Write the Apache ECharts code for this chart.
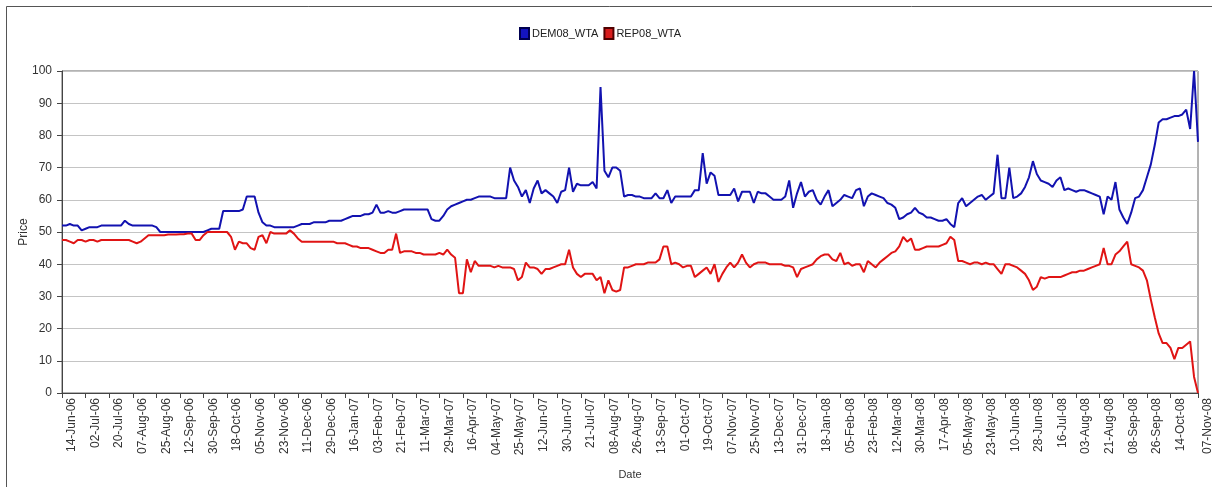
<!DOCTYPE html>
<html>
<head>
<meta charset="utf-8">
<script src="https://cdn.jsdelivr.net/npm/echarts@6/dist/echarts.min.js"></script>
<style>
html,body{margin:0;padding:0;background:#fff;}
#chart{width:1212px;height:487px;}
</style>
</head>
<body>
<div id="chart"></div>
<script>
// Tick labels shown on the date axis (every 6th point, plus the last point)
var tickLabels = ['14-Jun-06','02-Jul-06','20-Jul-06','07-Aug-06','25-Aug-06','12-Sep-06','30-Sep-06','18-Oct-06','05-Nov-06','23-Nov-06','11-Dec-06','29-Dec-06','16-Jan-07','03-Feb-07','21-Feb-07','11-Mar-07','29-Mar-07','16-Apr-07','04-May-07','25-May-07','12-Jun-07','30-Jun-07','21-Jul-07','08-Aug-07','26-Aug-07','13-Sep-07','01-Oct-07','19-Oct-07','07-Nov-07','25-Nov-07','13-Dec-07','31-Dec-07','18-Jan-08','05-Feb-08','23-Feb-08','12-Mar-08','30-Mar-08','17-Apr-08','05-May-08','23-May-08','10-Jun-08','28-Jun-08','16-Jul-08','03-Aug-08','21-Aug-08','08-Sep-08','26-Sep-08','14-Oct-08','07-Nov-08'];
var seriesNames = ['DEM08_WTA','REP08_WTA'];

var dem = [
52,52,52.5,52,52,50.5,
51,51.5,51.5,51.5,52,52,
52,52,52,52,53.5,52.5,
52,52,52,52,52,52,
51.5,50,50,50,50,50,
50,50,50,50,50,50,
50,50.5,51,51,51,56.5,
56.5,56.5,56.5,56.5,57,61,
61,61,56,53,52,52,
51.5,51.5,51.5,51.5,51.5,51.5,
52,52.5,52.5,52.5,53,53,
53,53,53.5,53.5,53.5,53.5,
54,54.5,55,55,55,55.5,
55.5,56,58.5,56,56,56.5,
56,56,56.5,57,57,57,
57,57,57,57,54,53.5,
53.5,55,57,58,58.5,59,
59.5,60,60,60.5,61,61,
61,61,60.5,60.5,60.5,60.5,
70,66,64,61,63,59,
63.5,66,62,63,62,61,
59,62.5,63,70,62.5,65,
64.5,64.5,64.5,65.5,63.5,95,
69,67,70,70,69,61,
61.5,61.5,61,61,60.5,60.5,
60.5,62,60.5,60.5,63,59,
61,61,61,61,61,63,
63,74.5,65,68.5,67.5,61.5,
61.5,61.5,61.5,63.5,59.5,62.5,
62.5,62.5,59,62.5,62,62,
61,60,60,60,61,66,
57.5,62,65.5,61,62.5,63,
60,58.5,61,63,58,59,
60,61.5,61,60.5,63,63.5,
58,61,62,61.5,61,60.5,
59,58.5,57.5,54,54.5,55.5,
56,57.5,56,55.5,54.5,54.5,
54,53.5,53.5,54,52.5,51.5,
59,60.5,58,59,60,61,
61.5,60,61,62,74,60.5,
60.5,70,60.5,61,62,64,
67,72,68,66,65.5,65,
64,66,67,63,63.5,63,
62.5,63,63,62.5,62,61.5,
61,55.5,61,60,65.5,57,
54.5,52.5,56,60.5,61,63,
67,71,77,84,85,85,
85.5,86,86,86.5,88,82,
100,78
];

var rep = [
47.5,47.5,47,46.5,47.5,47.5,
47,47.5,47.5,47,47.5,47.5,
47.5,47.5,47.5,47.5,47.5,47.5,
47,46.5,47,48,49,49,
49,49,49,49.2,49.2,49.2,
49.3,49.3,49.5,49.5,47.5,47.5,
49,50,50,50,50,50,
50,48.5,44.5,47,46.5,46.5,
45,44.5,48.5,49,46.5,50,
49.5,49.5,49.5,49.5,50.5,49.5,
48,47,47,47,47,47,
47,47,47,47,46.5,46.5,
46.5,46,45.5,45.5,45,45,
45,44.5,44,43.5,43.5,44.5,
44.5,49.5,43.5,44,44,44,
43.5,43.5,43,43,43,43,
43.5,43,44.5,43,42,31,
31,41.5,37.5,41,39.5,39.5,
39.5,39.5,39,39.5,39,39,
39,38.5,35,36,40.5,39,
39,38.5,37,38.5,38.5,39,
39.5,40,40,44.5,39,37,
36,37,37,37,35,36,
31,35,32,31.5,32,39,
39,39.5,40,40,40,40.5,
40.5,40.5,41.5,45.5,45.5,40,
40.5,40,39,39.5,39.5,36,
37,38,39,37,40,34.5,
37,39,40.5,39,40.5,43,
40.5,39,40,40.5,40.5,40.5,
40,40,40,40,39.5,39.5,
39,36,38.5,39,39.5,40,
41.5,42.5,43,43,41.5,41,
43.5,40,40.5,39.5,40,40,
37.5,41,40,39,40.5,41.5,
42.5,43.5,44,45.5,48.5,47,
48,44.5,44.5,45,45.5,45.5,
45.5,45.5,46,46.5,48.5,47.5,
41,41,40.5,40,40.5,40.5,
40,40.5,40,40,38.5,37,
40,40,39.5,39,38,37,
35,32,33,36,35.5,36,
36,36,36,36.5,37,37.5,
37.5,38,38,38.5,39,39.5,
40,45,40,40,43,44,
45.5,47,40,39.5,39,38,
35,29,23.5,18.5,15.5,15.5,
14,10.5,14,14,15,16,
5,0
];

// Build category list: labelled points every 6 entries, last label on the final point
var step = 6;
var n = dem.length;
var categories = [];
var labelAt = {};
for (var i = 0; i < n; i++) {
  var name = 'p' + i;
  if (i % step === 0 && i / step < tickLabels.length - 1) { name = tickLabels[i / step]; labelAt[i] = true; }
  if (i === n - 1) { name = tickLabels[tickLabels.length - 1]; labelAt[i] = true; }
  categories.push(name);
}
function showAt(idx) { return !!labelAt[idx]; }

var chart = echarts.init(document.getElementById('chart'), null, {renderer: 'canvas'});
var font = 'Liberation Sans, Arial, sans-serif';
chart.setOption({
  backgroundColor: '#ffffff',
  animation: false,
  textStyle: {fontFamily: font},
  graphic: [{
    type: 'rect', silent: true, z: -1,
    shape: {x: 6.5, y: 6.5, width: 1220, height: 520},
    style: {fill: 'none', stroke: '#555', lineWidth: 1}
  }],
  legend: {
    data: seriesNames,
    top: 22, left: 514,
    icon: 'rect', itemWidth: 9, itemHeight: 11, itemGap: 5,
    textStyle: {fontFamily: font, fontSize: 11, color: '#222', padding: [0,0,0,-2]}
  },
  grid: {left: 62, right: 14, top: 71, bottom: 94, outerBoundsMode: 'none', containLabel: false,
    show: true, borderColor: '#666', borderWidth: 1, backgroundColor: 'transparent'},
  xAxis: {
    type: 'category', data: categories, boundaryGap: false,
    name: 'Date', nameLocation: 'middle', nameGap: 76, nameMoveOverlap: false,
    nameTextStyle: {fontFamily: font, fontSize: 11, color: '#333'},
    axisLine: {lineStyle: {color: '#444', width: 1}},
    axisTick: {show: true, interval: showAt, length: 5, lineStyle: {color: '#444'}},
    axisLabel: {interval: showAt, rotate: 90, margin: 5, verticalAlign: 'top', lineHeight: 20,
      fontFamily: font, fontSize: 12, color: '#333',
      formatter: function (v) { return v.charAt(0) === 'p' ? '' : v; }},
    splitLine: {show: false}
  },
  yAxis: {
    type: 'value', min: 0, max: 100, interval: 10,
    name: 'Price', nameLocation: 'middle', nameGap: 32, nameMoveOverlap: false,
    nameTextStyle: {fontFamily: font, fontSize: 12, color: '#333'},
    axisLine: {show: true, lineStyle: {color: '#444', width: 1}},
    axisTick: {show: true, length: 5, lineStyle: {color: '#444'}},
    axisLabel: {fontFamily: font, fontSize: 12, color: '#333', margin: 10},
    splitLine: {show: true, lineStyle: {color: '#c4c4c4', width: 1}}
  },
  series: [
    {name: seriesNames[0], type: 'line', data: dem, showSymbol: false, symbol: 'none',
      lineStyle: {color: '#1212b0', width: 2}, itemStyle: {color: '#1414c0', borderColor: '#000050', borderWidth: 1}},
    {name: seriesNames[1], type: 'line', data: rep, showSymbol: false, symbol: 'none',
      lineStyle: {color: '#e01414', width: 2}, itemStyle: {color: '#d81c1c', borderColor: '#500000', borderWidth: 1}}
  ]
});
</script>
</body>
</html>
